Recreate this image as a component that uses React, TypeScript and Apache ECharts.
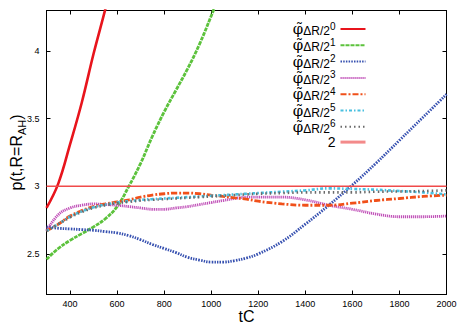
import React, { useEffect, useRef } from "react";
import * as echarts from "echarts";

const tRed = [300, 350, 400, 450, 500, 550, 600];
const vRed = [2.84, 3.02, 3.31, 3.62, 3.98, 4.31, 4.66];

const tGreen = [300, 350, 400, 450, 500, 550, 600, 650, 700, 750, 800, 850, 900, 950, 1000, 1050];
const vGreen = [2.46, 2.54, 2.6, 2.65, 2.7, 2.76, 2.85, 3.0, 3.17, 3.37, 3.55, 3.71, 3.87, 4.05, 4.26, 4.48];

const tGrid = [300, 350, 400, 450, 500, 550, 600, 650, 700, 750, 800, 850, 900, 950, 1000, 1050, 1100, 1150, 1200, 1300, 1400, 1500, 1600, 1700, 1800, 1900, 2000];
const vBlue = [2.7, 2.69, 2.685, 2.68, 2.675, 2.665, 2.655, 2.635, 2.605, 2.57, 2.54, 2.51, 2.475, 2.455, 2.44, 2.44, 2.45, 2.47, 2.5, 2.59, 2.72, 2.86, 3.01, 3.17, 3.34, 3.51, 3.68];
const vPurple = [2.67, 2.79, 2.84, 2.86, 2.87, 2.865, 2.86, 2.85, 2.84, 2.83, 2.83, 2.84, 2.85, 2.865, 2.88, 2.895, 2.91, 2.92, 2.92, 2.92, 2.9, 2.86, 2.83, 2.795, 2.775, 2.775, 2.78];
const vOrange = [2.67, 2.72, 2.78, 2.82, 2.85, 2.87, 2.885, 2.9, 2.92, 2.935, 2.945, 2.95, 2.95, 2.945, 2.935, 2.925, 2.915, 2.905, 2.89, 2.87, 2.86, 2.86, 2.875, 2.895, 2.91, 2.925, 2.935];
const vCyan = [2.67, 2.72, 2.775, 2.815, 2.845, 2.865, 2.88, 2.89, 2.9, 2.905, 2.91, 2.915, 2.92, 2.925, 2.93, 2.935, 2.94, 2.945, 2.95, 2.96, 2.97, 2.985, 2.98, 2.975, 2.965, 2.955, 2.94];
const vGray = [2.67, 2.72, 2.77, 2.81, 2.84, 2.86, 2.875, 2.885, 2.895, 2.9, 2.905, 2.91, 2.915, 2.92, 2.925, 2.93, 2.935, 2.94, 2.945, 2.95, 2.955, 2.955, 2.955, 2.96, 2.962, 2.965, 2.97];

const tRef = [300, 2000];
const vRef = [3, 3];

const xTicks = [400, 600, 800, 1000, 1200, 1400, 1600, 1800, 2000];
const yTicks = [2.5, 3, 3.5, 4];

const seriesNames = ["p0", "p1", "p2", "p3", "p4", "p5", "p6", "2"];

const zip = (t: number[], v: number[]) => t.map((x, i) => [x, v[i]]);

export default function App() {
  const ref = useRef<HTMLDivElement>(null);
  useEffect(() => {
    const chart = echarts.init(ref.current!, undefined, { renderer: "svg" });
    const font = "Liberation Sans";
    const mk = (name: string, data: number[][], color: string, type: any, width = 2.6) => ({
      name,
      type: "line",
      data,
      smooth: 0.4,
      showSymbol: false,
      symbol: "none",
      clip: true,
      lineStyle: { color, width, type },
      itemStyle: { color },
    });
    const option: any = {
      animation: false,
      textStyle: { fontFamily: font },
      grid: { left: 46.5, right: 16.5, top: 10.5, bottom: 29.5, outerBoundsMode: "none", containLabel: false },
      xAxis: [
        {
          type: "value",
          min: 300,
          max: 2000,
          name: "tC",
          nameLocation: "middle",
          nameGap: 14,
          nameMoveOverlap: false,
          nameTextStyle: { fontSize: 16, color: "#000", fontFamily: font },
          axisLine: { lineStyle: { color: "#000", width: 1 } },
          axisTick: { inside: true, length: 4, customValues: xTicks, lineStyle: { color: "#000" } },
          axisLabel: { customValues: xTicks, fontSize: 9, color: "#000", margin: 5, formatter: (v: number) => String(v) },
          splitLine: { show: false },
        },
        {
          type: "value",
          position: "top",
          min: 300,
          max: 2000,
          axisLine: { lineStyle: { color: "#000", width: 1 } },
          axisTick: { inside: true, length: 4, customValues: xTicks, lineStyle: { color: "#000" } },
          axisLabel: { show: false },
          splitLine: { show: false },
        },
      ],
      yAxis: [
        {
          type: "value",
          min: 2.2,
          max: 4.3,
          name: "{a|p(t,R=R}{b|AH}{a|)}",
          nameLocation: "middle",
          nameGap: 22,
          nameMoveOverlap: false,
          nameRotate: 90,
          nameTextStyle: {
            color: "#000",
            rich: {
              a: { fontSize: 16, fontFamily: font, color: "#000", lineHeight: 20, verticalAlign: "bottom" },
              b: { fontSize: 11, fontFamily: font, color: "#000", lineHeight: 11, verticalAlign: "bottom", padding: [0, 0, -3, 0] },
            },
          },
          axisLine: { lineStyle: { color: "#000", width: 1 } },
          axisTick: { inside: true, length: 4, customValues: yTicks, lineStyle: { color: "#000" } },
          axisLabel: { customValues: yTicks, fontSize: 9, color: "#000", margin: 7 },
          splitLine: { show: false },
        },
        {
          type: "value",
          position: "right",
          min: 2.2,
          max: 4.3,
          axisLine: { lineStyle: { color: "#000", width: 1 } },
          axisTick: { inside: true, length: 4, customValues: yTicks, lineStyle: { color: "#000" } },
          axisLabel: { show: false },
          splitLine: { show: false },
        },
      ],
      legend: {
        data: seriesNames.map((n) =>
          n === "2" ? { name: n, lineStyle: { color: "#f38a8a", width: 3, type: "solid" } } : { name: n }
        ),
        orient: "vertical",
        align: "right",
        right: 91,
        top: 16,
        itemGap: 0.3,
        itemWidth: 25,
        itemHeight: 14,
        icon: "inherit",
        itemStyle: { opacity: 0 },
        formatter: (name: string) =>
          name === "2" ? "{n|2}" : `{phi|φ̃}{sub|ΔR/2}{sup|${name.slice(1)}}`,
        textStyle: {
          color: "#000",
          fontFamily: font,
          rich: {
            n: { fontSize: 14, fontFamily: font, color: "#000", lineHeight: 16 },
            phi: { fontSize: 15, fontFamily: "DejaVu Serif", color: "#000", lineHeight: 16, verticalAlign: "middle" },
            sub: { fontSize: 12, fontFamily: font, color: "#000", lineHeight: 8, verticalAlign: "bottom" },
            sup: { fontSize: 10, fontFamily: font, color: "#000", lineHeight: 8, verticalAlign: "top" },
          },
        },
      },
      series: [
        mk("p0", zip(tRed, vRed), "#e8141c", "solid", 2.6),
        mk("p1", zip(tGreen, vGreen), "#5cc23c", [4, 1], 2.8),
        mk("p2", zip(tGrid, vBlue), "#3650b0", [1.5, 1.2], 2.8),
        mk("p3", zip(tGrid, vPurple), "#c050b8", [1.2, 0.8], 2.8),
        mk("p4", zip(tGrid, vOrange), "#f0501a", [6, 2, 2, 2], 2.8),
        mk("p5", zip(tGrid, vCyan), "#48c0e0", [3, 2, 1.5, 2], 2.6),
        mk("p6", zip(tGrid, vGray), "#6a6a6a", [1.5, 3], 2.6),
        { ...mk("2", zip(tRef, vRef), "#f04a4a", "solid", 1.4), smooth: false },
      ],
    };
    chart.setOption(option);
    return () => chart.dispose();
  }, []);
  return <div ref={ref} style={{ width: 463, height: 324, position: "absolute", left: 0, top: 0, background: "#fff" }} />;
}
